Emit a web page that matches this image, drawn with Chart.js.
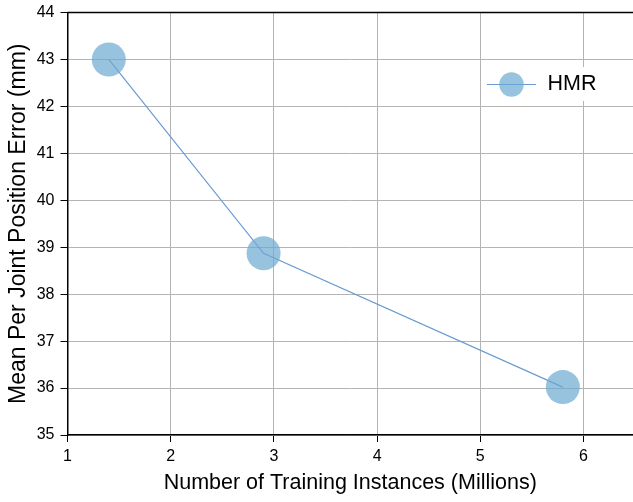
<!DOCTYPE html>
<html>
<head>
<meta charset="utf-8">
<script src="https://cdn.jsdelivr.net/npm/chart.js@4.4.1/dist/chart.umd.min.js"></script>
<style>
  html, body { margin: 0; padding: 0; background: #fff; overflow: hidden; }
  #wrap { width: 633px; height: 502px; position: relative; }
</style>
</head>
<body>
<div id="wrap"><canvas id="errChart"></canvas></div>
<script>
const seriesName = 'HMR';
const trainingInstances = [1.4, 2.9, 5.8];
const mpjpe = [43.0, 38.87, 36.02];
const xTicks = [1, 2, 3, 4, 5, 6];
const yTicks = [35, 36, 37, 38, 39, 40, 41, 42, 43, 44];

const pointFill = 'rgba(107,170,210,0.7)';
const lineColor = '#6a9bd1';
const font = "'Liberation Sans', Arial, sans-serif";

// top spine + legend drawn by hand (line + marker + label)
const extras = {
    id: 'extras',
    afterDatasetsDraw(chart) {
        const ctx = chart.ctx;
        const a = chart.chartArea;
        ctx.save();
        ctx.strokeStyle = '#000';
        ctx.lineWidth = 1.5;
        ctx.beginPath();
        ctx.moveTo(a.left, a.top);
        ctx.lineTo(a.right, a.top);
        ctx.stroke();

        const lx = 487, ly = 84.5;
        ctx.fillStyle = '#fff';
        ctx.fillRect(543, 67, 62, 34);
        ctx.strokeStyle = lineColor;
        ctx.lineWidth = 1.2;
        ctx.beginPath();
        ctx.moveTo(lx, ly);
        ctx.lineTo(lx + 49, ly);
        ctx.stroke();
        ctx.fillStyle = pointFill;
        ctx.beginPath();
        ctx.arc(lx + 24.5, ly, 12.2, 0, Math.PI * 2);
        ctx.fill();
        ctx.fillStyle = '#000';
        ctx.font = '21.5px ' + font;
        ctx.textBaseline = 'middle';
        ctx.fillText(seriesName, 547.5, ly);
        ctx.restore();
    }
};

function noScalePadding(s) {
    s.paddingTop = 0;
    s.paddingBottom = 0;
    s.paddingLeft = 0;
    s.paddingRight = 0;
}

new Chart(document.getElementById('errChart'), {
    type: 'line',
    data: {
        datasets: [{
            label: seriesName,
            data: trainingInstances.map((x, i) => ({x: x, y: mpjpe[i]})),
            borderColor: lineColor,
            borderWidth: 1.2,
            pointRadius: 17,
            pointHoverRadius: 17,
            pointBackgroundColor: pointFill,
            pointBorderWidth: 0,
            tension: 0
        }]
    },
    options: {
        responsive: true,
        maintainAspectRatio: false,
        animation: false,
        events: [],
        layout: { autoPadding: false, padding: { top: 12.5, right: 0, left: 0, bottom: 0 } },
        plugins: { legend: { display: false }, tooltip: { enabled: false } },
        scales: {
            x: {
                type: 'linear',
                min: 1,
                max: 6.48,
                afterBuildTicks: s => { s.ticks = xTicks.map(v => ({value: v})); },
                afterFit: s => { s.height = 67; noScalePadding(s); },
                grid: { color: '#b4b4b4', lineWidth: 1, tickColor: '#000', tickLength: 7 },
                border: { color: '#000', width: 1.5 },
                ticks: { color: '#000', font: { family: font, size: 16 }, padding: 5, maxRotation: 0 },
                title: {
                    display: true,
                    text: 'Number of Training Instances (Millions)',
                    color: '#000',
                    font: { family: font, size: 21.5 },
                    padding: { top: 4, bottom: 6 }
                }
            },
            y: {
                min: 35,
                max: 44,
                afterBuildTicks: s => { s.ticks = yTicks.map(v => ({value: v})); },
                afterFit: s => { s.width = 67.5; noScalePadding(s); },
                grid: { color: '#b4b4b4', lineWidth: 1, tickColor: '#000', tickLength: 7 },
                border: { color: '#000', width: 1.5 },
                ticks: { color: '#000', font: { family: font, size: 16 }, padding: 6 },
                title: {
                    display: true,
                    text: 'Mean Per Joint Position Error (mm)',
                    color: '#000',
                    font: { family: font, size: 23 },
                    padding: { top: 5, bottom: 4 }
                }
            }
        }
    },
    plugins: [extras]
});
</script>
</body>
</html>
